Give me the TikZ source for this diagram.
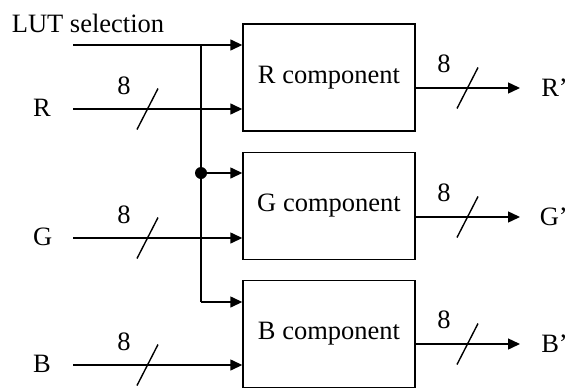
\documentclass[tikz,border=0pt]{standalone}
\usepackage{fontspec}
\setmainfont{Liberation Serif}
\usetikzlibrary{arrows.meta}
\begin{document}
\begin{tikzpicture}[x=1pt,y=-1pt,
  every node/.style={font=\fontsize{26.5}{31}\selectfont},
  comp/.style={draw, line width=1.4pt, minimum width=172pt, minimum height=107pt, inner sep=0pt},
  lbl/.style={inner sep=0pt},
  wire/.style={line width=1.4pt},
  arr/.style={wire, -{Triangle[length=12pt,width=11pt]}},
  busmark/.style={line width=1.4pt}
]
\useasboundingbox (0,0) rectangle (569,388);

% component boxes
\node[comp] (Rc) at (329,77.5) {R component};
\node[comp] (Gc) at (329,206) {G component};
\node[comp] (Bc) at (329,334) {B component};

% input labels
\node[lbl] (lut) at (88,23) {LUT selection};
\node[lbl,anchor=west] (Rin) at (33,108) {R};
\node[lbl,anchor=west] (Gin) at (33,237) {G};
\node[lbl,anchor=west] (Bin) at (33,364) {B};

% output labels
\node[lbl,anchor=east] (Rp) at (568,88) {R’};
\node[lbl,anchor=east] (Gp) at (568,217) {G’};
\node[lbl,anchor=east] (Bp) at (568,344) {B’};

% wire start points and output tips
\coordinate (l0) at (73,45);
\coordinate (r0) at (73,109);
\coordinate (g0) at (73,238);
\coordinate (b0) at (73,365);
\coordinate (tip) at (520,0);

% junctions on the selection bus
\coordinate (j1) at (201,45);
\coordinate (j2) at (201,173);
\coordinate (j3) at (201,302);

% LUT selection distribution
\draw[arr] (l0) -- (Rc.west |- l0);
\draw[wire] (j1) -- (j3);
\draw[arr] (j2) -- (Gc.west |- j2);
\draw[arr] (j3) -- (Bc.west |- j3);
\fill (j2) circle (6);

% data inputs
\draw[arr] (r0) -- (Rc.west |- r0);
\draw[arr] (g0) -- (Gc.west |- g0);
\draw[arr] (b0) -- (Bc.west |- b0);

% data outputs
\draw[arr] (Rc.east |- Rp) -- (tip |- Rp);
\draw[arr] (Gc.east |- Gp) -- (tip |- Gp);
\draw[arr] (Bc.east |- Bp) -- (tip |- Bp);

% bus width marks (inputs)
\foreach \y in {109,238,365} {
  \draw[busmark] (137,\y+20.5) -- (158,\y-20.5);
}
\node[lbl] (r8) at (124,86) {8};
\node[lbl] (g8) at (124,215) {8};
\node[lbl] (b8) at (124,342) {8};

% bus width marks (outputs)
\foreach \y in {88,217,344} {
  \draw[busmark] (457,\y+20.5) -- (478,\y-20.5);
}
\node[lbl] (rp8) at (444,64) {8};
\node[lbl] (gp8) at (444,193) {8};
\node[lbl] (bp8) at (444,320) {8};
\end{tikzpicture}
\end{document}
